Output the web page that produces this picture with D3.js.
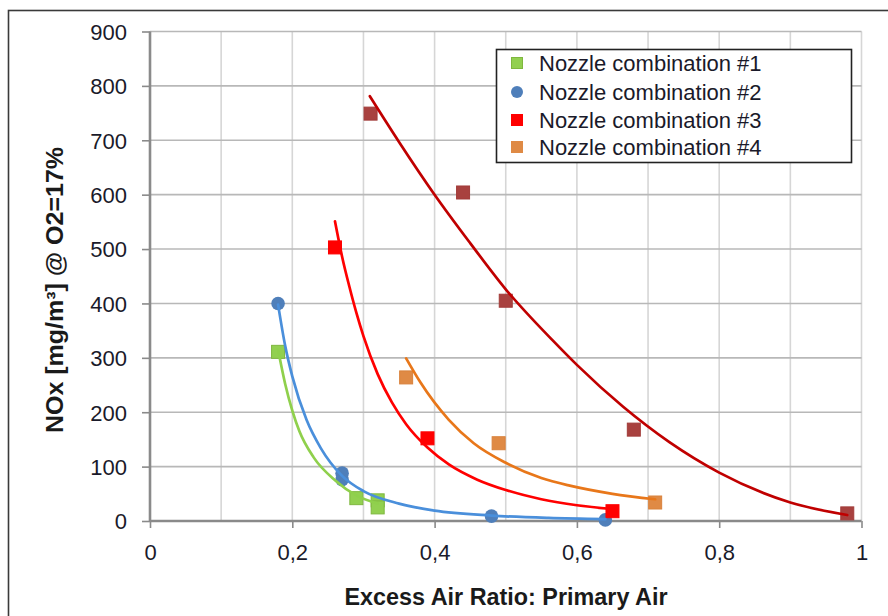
<!DOCTYPE html>
<html><head><meta charset="utf-8">
<script src="https://cdn.jsdelivr.net/npm/d3@7"></script>
<style>html,body{margin:0;padding:0;background:#fff;} svg{display:block;}</style>
</head><body>
<svg id="c" width="888" height="616"></svg>
<script>
// ---- data ----
const seriesNames = ["Nozzle combination #1","Nozzle combination #2","Nozzle combination #3","Nozzle combination #4"];
const s1 = [[0.18,311],[0.29,42],[0.32,38],[0.32,25]];
const s2 = [[0.18,400],[0.27,88],[0.27,76],[0.48,9],[0.64,2]];
const s3 = [[0.26,503],[0.39,152],[0.65,18]];
const s4 = [[0.36,264],[0.49,143],[0.71,34]];
const s5 = [[0.31,749],[0.44,604],[0.50,405],[0.68,168],[0.98,14]];
// trend lines, points
const t1 = [[0.18,315],[0.19,252],[0.20,203],[0.21,165],[0.23,117],[0.26,75],[0.29,47],[0.32,32]];
const t2 = [[0.18,398],[0.19,322],[0.20,266],[0.22,186],[0.24,134],[0.27,83],[0.30,55],[0.35,32],[0.40,19],[0.48,10],[0.56,5.6],[0.64,3.4]];
const t3 = [[0.26,551],[0.27,486],[0.28,432],[0.29,383],[0.30,340],[0.32,270],[0.34,218],[0.36,178],[0.39,135],[0.42,104],[0.46,76],[0.50,57],[0.55,40],[0.60,29],[0.65,22]];
const t4 = [[0.36,299],[0.38,255],[0.42,186],[0.455,143],[0.50,107],[0.55,79],[0.59,65],[0.65,50],[0.71,40]];
const t5 = [[0.309,781],[0.35,697],[0.40,600],[0.45,511],[0.50,426],[0.566,332],[0.60,287],[0.665,210],[0.73,145],[0.80,89],[0.90,34],[0.98,11]];
const xTicks = [0,0.2,0.4,0.6,0.8,1];
const xTickLabels = ["0","0,2","0,4","0,6","0,8","1"];
const xGrid = [0.1,0.2,0.3,0.4,0.5,0.6,0.7,0.8,0.9,1];
const yTicks = [0,100,200,300,400,500,600,700,800,900];
const xTitle = "Excess Air Ratio: Primary Air";
const yTitle = "NOx [mg/m³] @ O2=17%";

// ---- drawing ----
const svg = d3.select("#c");
const FONT = "'Liberation Sans', Arial, sans-serif";
const x = d3.scaleLinear().domain([0,1]).range([150,861.5]);
const y = d3.scaleLinear().domain([0,900]).range([521,31.5]);

// outer frame
svg.append("rect").attr("x",8.5).attr("y",10.5).attr("width",900).attr("height",700)
  .attr("fill","#fff").attr("stroke","#3a3a3a").attr("stroke-width",1.6);

// grid
const g = svg.append("g");
g.selectAll(".vg").data(xGrid).join("line")
  .attr("x1",d=>x(d)).attr("x2",d=>x(d)).attr("y1",y(0)).attr("y2",y(900))
  .attr("stroke","#d6d6d6").attr("stroke-width",1.6);
g.selectAll(".hg").data(yTicks.slice(1)).join("line")
  .attr("x1",x(0)).attr("x2",x(1)).attr("y1",d=>y(d)).attr("y2",d=>y(d))
  .attr("stroke","#b8b8b8").attr("stroke-width",1.6);

// axes
const yAxis = d3.axisLeft(y).tickValues(yTicks).tickSize(8).tickPadding(15).tickFormat(d3.format("d"));
const ya = svg.append("g").attr("transform",`translate(${x(0)},0)`).call(yAxis);
const xAxis = d3.axisBottom(x).tickValues(xTicks).tickSize(7).tickPadding(16).tickFormat((d,i)=>xTickLabels[i]);
const xa = svg.append("g").attr("transform",`translate(0,${y(0)})`).call(xAxis);
[ya,xa].forEach(a=>{
  a.select(".domain").attr("stroke","#8a8a8a").attr("stroke-width",2.6);
  a.selectAll(".tick line").attr("stroke","#8a8a8a").attr("stroke-width",1.6);
  a.selectAll(".tick text").attr("font-family",FONT).attr("font-size",22).attr("fill","#1a1a2a");
});
xa.select(".domain").attr("d",`M${x(0)},0H${x(1)}`);
ya.select(".domain").attr("d",`M0,${y(0)}V${y(900)}`);
ya.selectAll(".tick text").attr("dy","0.36em");

// titles
svg.append("text").attr("x",506).attr("y",605).attr("text-anchor","middle")
  .attr("font-family",FONT).attr("font-weight","bold").attr("font-size",23).attr("fill","#1a1a1a")
  .attr("textLength",323).attr("lengthAdjust","spacingAndGlyphs").text(xTitle);
svg.append("text").attr("transform","translate(63,290) rotate(-90)").attr("text-anchor","middle")
  .attr("font-family",FONT).attr("font-weight","bold").attr("font-size",23).attr("fill","#1a1a1a")
  .attr("textLength",286).attr("lengthAdjust","spacingAndGlyphs").text(yTitle);

// markers
const SQ = 13;
function squares(data, fill, stroke){
  svg.append("g").selectAll("rect").data(data).join("rect")
    .attr("x",d=>x(d[0])-SQ/2).attr("y",d=>y(d[1])-SQ/2).attr("width",SQ).attr("height",SQ)
    .attr("fill",fill).attr("stroke",stroke).attr("stroke-width",1);
}
function circles(data, fill){
  svg.append("g").selectAll("circle").data(data).join("circle")
    .attr("cx",d=>x(d[0])).attr("cy",d=>y(d[1])).attr("r",6.8).attr("fill",fill);
}
squares(s1,"#92d050","#7fb73f");
circles(s2,"#4f7fba");
squares(s3,"#ff0000","#ff0000");
squares(s4,"#df8a45","#d9823c");
squares(s5,"#a8413f","#a23c3a");

// trend lines
const line = d3.line().x(d=>x(d[0])).y(d=>y(d[1])).curve(d3.curveMonotoneX);
[[t1,"#8fd04c"],[t2,"#4a8fdb"],[t3,"#ff0000"],[t4,"#e8771a"],[t5,"#c00000"]].forEach(([d,c])=>{
  svg.append("path").attr("d",line(d)).attr("fill","none").attr("stroke",c).attr("stroke-width",2.7).attr("stroke-linecap","round");
});

// legend
const lg = svg.append("g");
lg.append("rect").attr("x",496.5).attr("y",49.5).attr("width",355).attr("height",113)
  .attr("fill","#fff").attr("stroke","#222").attr("stroke-width",1.6);
const rowY = [63,92,120,147];
const legFill = ["#92d050","#4f7fba","#ff0000","#df8a45"];
seriesNames.forEach((n,i)=>{
  if(i===1){
    lg.append("circle").attr("cx",517).attr("cy",rowY[i]).attr("r",6).attr("fill",legFill[i]);
  } else {
    lg.append("rect").attr("x",511.5).attr("y",rowY[i]-5.5).attr("width",11).attr("height",11)
      .attr("fill",legFill[i]).attr("stroke",i===0?"#7fb73f":legFill[i]).attr("stroke-width",1);
  }
  lg.append("text").attr("x",539).attr("y",rowY[i]).attr("dy","0.36em")
    .attr("font-family",FONT).attr("font-size",22).attr("fill","#1a1a2a").text(n);
});
</script>
</body></html>
